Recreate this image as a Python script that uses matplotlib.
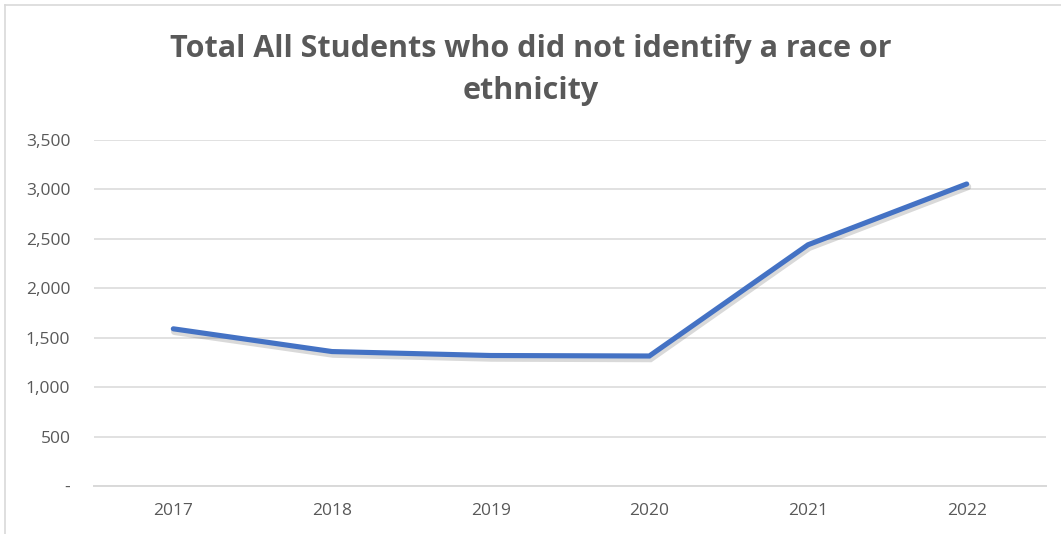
import matplotlib
matplotlib.use("Agg")
import matplotlib.pyplot as plt
import matplotlib.patheffects as pe

# yearly totals, students with no race / ethnicity reported
years = ["2017", "2018", "2019", "2020", "2021", "2022"]
totals = [1590, 1360, 1320, 1315, 2440, 3055]
y_ticks = [0, 500, 1000, 1500, 2000, 2500, 3000, 3500]
y_labels = ["-", "500", "1,000", "1,500", "2,000", "2,500", "3,000", "3,500"]

plt.rcParams["font.family"] = ["Open Sans", "DejaVu Sans"]
text_grey = "#595959"
grid_grey = "#d9d9d9"

fig = plt.figure(figsize=(10.61, 5.34), dpi=100)
ax = fig.add_axes([94 / 1061, 48 / 534, 952 / 1061, 346 / 534])

x = list(range(len(years)))
ax.plot(x, totals, color="#4472C4", lw=3.7, solid_capstyle="round",
        solid_joinstyle="miter",
        path_effects=[pe.SimpleLineShadow(offset=(0.8, -2.0), shadow_color="k", alpha=0.15,
                                          linewidth=5),
                      pe.Normal()], zorder=3)

ax.set_xlim(-0.5, len(years) - 0.5)
ax.set_ylim(0, 3500)
ax.set_xticks(x)
ax.set_xticklabels(years)
ax.set_yticks(y_ticks)
ax.set_yticklabels(y_labels)
ax.tick_params(length=0, labelsize=12.5, labelcolor=text_grey)
ax.tick_params(axis="y", pad=17)
ax.tick_params(axis="x", pad=12)
ax.grid(axis="y", color=grid_grey, lw=1.1)
ax.set_axisbelow(True)
for side in ["top", "right", "left"]:
    ax.spines[side].set_visible(False)
ax.spines["bottom"].set_color(grid_grey)
ax.spines["bottom"].set_linewidth(1.4)

fig.text(0.5, 1 - 70 / 534, "Total All Students who did not identify a race or\nethnicity",
         ha="center", va="center", fontsize=22, fontweight="bold",
         color=text_grey, linespacing=1.55)

# chart area border (left and top edges only)
fig.add_artist(plt.Line2D([5 / 1061, 5 / 1061], [0, 1 - 5 / 534],
                          transform=fig.transFigure, color=grid_grey, lw=1.2))
fig.add_artist(plt.Line2D([5 / 1061, 1], [1 - 5 / 534, 1 - 5 / 534],
                          transform=fig.transFigure, color=grid_grey, lw=1.2))

fig.savefig("out.png", dpi=100)
